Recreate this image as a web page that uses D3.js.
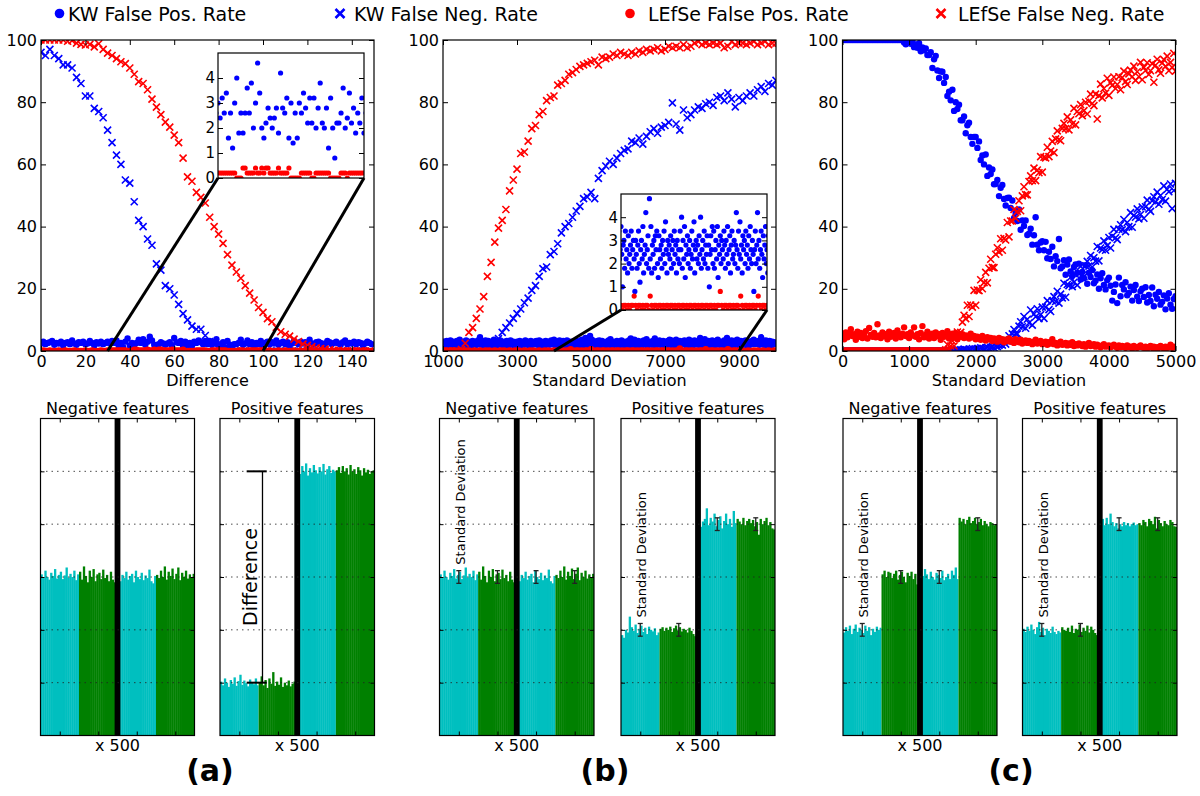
<!DOCTYPE html>
<html><head><meta charset="utf-8">
<script src="https://cdn.jsdelivr.net/npm/d3@7"></script>
<style>body{margin:0;background:#fff}svg{display:block}text{font-family:"DejaVu Sans",sans-serif}</style>
</head><body>
<svg id="chart" width="1200" height="796"></svg>
<script>
// ---------------- DATA ----------------
const legendLabels = ["KW False Pos. Rate","KW False Neg. Rate","LEfSe False Pos. Rate","LEfSe False Neg. Rate"];
const panelLabels = ["(a)","(b)","(c)"];
const xLabels = ["Difference","Standard Deviation","Standard Deviation"];
const yTicksMain = [0,20,40,60,80,100];
const yTicksInset = [0,1,2,3,4];
const xTicksA = [0,20,40,60,80,100,120,140];
const xTicksB = [1000,3000,5000,7000,9000];
const xTicksC = [0,1000,2000,3000,4000,5000];

// Panel (a): Difference
const xA1 = [0,1,2,3,4,5,6,7,8,9,10,11,12,13,14,15,16,17,18,19,20,21,22,23,24,25,26,27,28,29,30,31,32,33,34,35,36,37,38,39,40,41,42,43,44,45,46,47,48,49,50,51,52,53,54,55,56,57,58,59,60,61,62,63,64,65,66,67,68,69,70,71,72,73,74,75,76,77,78,79,80,81,82,83,84,85,86,87,88,89,90,91,92,93,94,95,96,97,98,99,100,101,102,103,104,105,106,107,108,109,110,111,112,113,114,115,116,117,118,119,120,121,122,123,124,125,126,127,128,129,130,131,132,133,134,135,136,137,138,139,140,141,142,143,144,145,146,147,148,149];
const kwFprA = [2.4,3.0,2.2,2.6,2.8,3.2,2.0,2.6,2.4,3.0,1.8,2.6,2.8,2.2,3.4,2.4,2.0,2.8,2.6,3.0,2.2,2.4,3.2,2.6,1.8,2.8,2.4,3.0,2.2,2.6,
 3.0,2.4,3.2,2.6,3.4,1.6,2.6,1.2,3.0,4.0,1.8,2.6,1.8,2.6,3.6,2.6,3.8,2.0,3.0,4.6,3.4,2.0,1.6,2.2,2.8,2.4,2.0,2.4,2.8,1.8,4.2,2.8,2.6,3.2,1.6,3.0,1.4,2.6,1.6,3.0,2.6,3.4,2.8,2.2,3.2,2.2,3.2,2.0,2.8,3.8,2.2,2.0,2.8,1.2,3.2,2.0,0.8,2.2,2.2,2.6,3.6,2.0,2.4,3.4,2.2,2.8,1.8,2.6,2.2,3.2,1.8,
 2.6,3.0,2.2,2.8,2.4,3.4,2.0,2.6,3.0,2.2,2.8,1.8,2.4,3.2,2.6,2.2,3.0,2.4,2.8,2.0,3.6,2.4,2.2,2.8,3.0,2.6,1.6,2.4,3.2,2.8,2.2,2.6,3.0,2.4,2.0,2.8,3.4,2.2,2.6,2.4,3.0,2.2,2.8,2.6,1.8,2.4,3.0,2.6,2.2];
const lefFprA = [0,0.2,0,0,0.2,0,0,0,0.2,0,0,0.2,0,0,0,0.2,0,0,0,0,0.2,0,0,0.2,0,0,0,0.2,0,0,
 0.2,0.2,0.2,0.2,0.2,0.2,0.2,0.2,0.2,0,0,0,0.4,0.4,0.2,0.2,0.2,0.2,0.4,0.2,0.2,0.4,0.2,0.4,0.4,0.2,0.2,0.2,0.2,0.4,0.2,0.2,0.2,0.2,0.4,0,0,0,0,0,0.2,0.2,0.2,0.2,0.2,0,0,0.2,0.2,0.2,0.2,0.2,0.2,0.2,0,0,0,0,0,0.2,0.2,0.2,0,0.2,0.2,0.2,0.2,0.2,0.2,0.2,0.2,
 0,0,0.2,0,0,0,0.2,0,0,0.2,0,0,0,0.2,0,0,0,0,0.2,0,0,0.2,0,0,0,0.2,0,0,0,0,0.2,0,0,0.2,0,0,0,0.2,0,0,0,0.2,0,0,0,0.2,0,0,0];
const xA2 = [0,2,4,6,8,10,12,14,16,18,20,22,24,26,28,30,32,34,36,38,40,42,44,46,48,50,52,54,56,58,60,62,64,66,68,70,72,74,76,78,80,82,84,86,88,90,92,94,96,98,100,102,104,106,108,110,112,114,116,118,120,122,124,126,128,130,132,134,136,138,140,142,144,146,148];
const kwFnrA = [96,95,97,95,94,92,92,91,88,86,82,82,78,77,75,71,67,63,60,55,54,48,42,40,36,34,28,26,21,20,18,15,12,10,8,7,7,5,3,2,1,0.6,0.2,
 0,0,0,0,0,0,0,0,0,0,0,0,0,0,0,0,0,0,0,0,0,0,0,0,0,0,0,0,0,0,0,0];
const lefFnrA = [100,100,100,100,100,100,99.6,99.8,99,98.6,98.4,98.6,97.8,98.8,97,95.8,95,94,93,92.4,91,89,86.6,86,84,81,78.4,76,73.6,72,69.4,67,62,56,54.6,51,49.4,47.6,43,40,37.6,34.6,31,27.6,25.4,23.4,21,18.6,16.4,14,12.4,10.4,9.4,7.6,6.2,5.4,4.8,3.8,3,2.2,1.8,1.4,1,0.8,0.6,0.4,0.2,0.2,
 0,0,0,0,0,0,0];

// Panel (b): Standard Deviation
const xB0 = [1000,1025,1050,1075,1100,1125,1150,1175,1200,1225,1250,1275,1300,1325,1350,1375,1400,1425,1450,1475,1500,1525,1550,1575,1600,1625,1650,1675,1700,1725,1750,1775,1800,1825,1850,1875,1900,1925,1950,1975,
 2000,2025,2050,2075,2100,2125,2150,2175,2200,2225,2250,2275,2300,2325,2350,2375,2400,2425,2450,2475,2500,2525,2550,2575,2600,2625,2650,2675,2700,2725,2750,2775,2800,2825,2850,2875,2900,2925,2950,2975,
 3000,3025,3050,3075,3100,3125,3150,3175,3200,3225,3250,3275,3300,3325,3350,3375,3400,3425,3450,3475,3500,3525,3550,3575,3600,3625,3650,3675,3700,3725,3750,3775,3800,3825,3850,3875,3900,3925,3950,3975,
 4000,4025,4050,4075,4100,4125,4150,4175,4200,4225,4250,4275,4300,4325,4350,4375,4400,4425,4450,4475,4500,4525,4550,4575,4600,4625,4650,4675,4700,4725,4750,4775,4800,4825,4850,4875,4900,4925,4950,4975,
 5000,5025,5050,5075,5100,5125,5150,5175,5200,5225,5250,5275,5300,5325,5350,5375,5400,5425,5450,5475,5500,5525,5550,5575,5600,5625,5650,5675,5700,5725,5750,5775,5800,5825,5850,5875,5900,5925,5950,5975,
 6000,6025,6050,6075,6100,6125,6150,6175,6200,6225,6250,6275,6300,6325,6350,6375,6400,6425,6450,6475,6500,6525,6550,6575,6600,6625,6650,6675,6700,6725,6750,6775,6800,6825,6850,6875,6900,6925,6950,6975,
 7000,7025,7050,7075,7100,7125,7150,7175,7200,7225,7250,7275,7300,7325,7350,7375,7400,7425,7450,7475,7500,7525,7550,7575,7600,7625,7650,7675,7700,7725,7750,7775,7800,7825,7850,7875,7900,7925,7950,7975,
 8000,8025,8050,8075,8100,8125,8150,8175,8200,8225,8250,8275,8300,8325,8350,8375,8400,8425,8450,8475,8500,8525,8550,8575,8600,8625,8650,8675,8700,8725,8750,8775,8800,8825,8850,8875,8900,8925,8950,8975,
 9000,9025,9050,9075,9100,9125,9150,9175,9200,9225,9250,9275,9300,9325,9350,9375,9400,9425,9450,9475,9500,9525,9550,9575,9600,9625,9650,9675,9700,9725,9750,9775,9800,9825,9850,9875,9900,9925,9950,9975,10000];
const kwFprB = [2.4,3.0,1.8,2.6,3.2,2.0,2.8,2.2,3.4,1.6,2.6,3.0,2.2,2.8,1.8,3.2,2.4,2.0,3.6,2.6,
 2.2,2.8,3.0,1.6,2.4,3.4,2.0,2.6,3.0,2.2,2.8,1.8,3.2,2.4,2.6,3.0,2.0,2.8,3.4,2.2,
 4.4,2.8,2.2,3.0,1.8,2.6,3.4,2.0,2.4,3.2,2.8,1.6,2.6,3.0,2.2,3.6,2.4,1.8,2.8,3.2,
 2.0,2.6,3.4,2.2,2.8,1.6,3.0,2.4,2.0,3.2,2.6,1.8,2.8,3.4,2.2,2.6,3.0,1.6,2.4,2.8,
 3.0,2.2,2.6,3.2,1.8,2.8,2.4,3.0,2.0,3.4,2.6,2.2,3.0,1.8,2.8,3.2,2.4,2.0,2.6,3.0,
 2.4,3.2,2.0,2.8,3.4,1.8,2.6,3.0,2.2,2.8,1.6,3.2,2.4,2.6,3.0,2.0,2.8,3.4,2.2,2.6,
 3.6,2.4,1.0,2.8,3.0,1.8,3.4,2.2,2.6,1.6,3.2,2.0,2.4,2.8,3.4,1.8,2.6,3.0,2.2,0.8,
 3.0,2.4,1.8,2.8,3.4,2.0,1.2,2.6,3.0,2.2,3.6,1.6,2.4,2.8,4.2,2.0,2.6,3.2,1.8,4.8,
 2.2,3.6,1.6,2.8,2.4,3.0,1.8,3.2,2.6,3.4,2.0,1.4,3.2,2.6,2.2,2.8,1.8,3.0,2.4,3.4,
 2.0,3.8,2.6,1.6,3.0,2.4,2.8,2.2,3.2,1.8,2.6,3.0,2.0,3.4,2.4,2.8,1.6,3.0,2.2,2.6,
 2.0,3.4,2.6,4.0,1.8,3.0,2.2,3.6,1.4,2.8,2.4,3.2,2.0,2.6,3.0,1.8,2.4,3.4,2.2,2.8,
 3.8,1.6,2.6,3.0,2.2,2.8,2.0,3.2,2.4,4.0,1.8,2.6,3.0,2.2,3.4,2.0,2.8,2.4,3.2,1.8,
 2.8,1.0,2.4,3.2,2.6,3.6,2.0,3.4,1.8,2.6,3.0,2.2,3.6,1.4,2.8,2.4,3.2,2.0,3.0,2.6,
 2.2,3.4,2.8,1.8,3.0,2.4,3.6,2.0,2.6,3.2,1.6,2.8,3.4,2.2,2.4,3.0,2.0,2.8,4.2,2.6,
 1.8,3.4,2.4,3.8,2.2,2.8,1.6,3.2,2.6,3.0,2.0,3.4,2.4,2.8,1.8,3.2,2.2,3.6,2.6,2.0,
 3.0,2.4,0.8,2.6,3.4,2.0,2.8,4.2,2.2,3.0,1.8,2.6,3.4,2.4,1.4,3.2,2.2,2.8,3.6,2.0,
 2.6,1.6,3.2,2.4,3.0,2.0,2.8,3.4,2.2,1.8,3.0,2.6,2.0,2.8,3.2,2.4,3.6,2.2,2.6,3.0,
 2.4,3.2,2.0,2.8,4.4,2.2,3.0,2.6,1.8,3.4,2.4,2.8,2.0,3.2,2.6,1.6,3.0,2.4,2.8,2.2,
 2.6];
const xB1 = [1000,1050,1100,1150,1200,1250,1300,1350,1400,1450,1500,1550,1600,1650,1700,1750,1800,1850,1900,1950,2000,2050,2100,2150,2200,2250,2300,2350,2400,2450,2500,2550,2600,2650,2700,2750,2800,2850,2900,2950,3000,3050,3100,3150,3200,3250,3300,3350,3400,3450,3500,3550,3600,3650,3700,3750,3800,3850,3900,3950,4000,4050,4100,4150,4200,4250,4300,4350,4400,4450,4500,4550,4600,4650,4700,4750,4800,4850,4900,4950,5000,5050,5100,5150,5200,5250,5300,5350,5400,5450,5500,5550,5600,5650,5700,5750,5800,5850,5900,5950,6000,6050,6100,6150,6200,6250,6300,6350,6400,6450,6500,6550,6600,6650,6700,6750,6800,6850,6900,6950,7000,7050,7100,7150,7200,7250,7300,7350,7400,7450,7500,7550,7600,7650,7700,7750,7800,7850,7900,7950,8000,8050,8100,8150,8200,8250,8300,8350,8400,8450,8500,8550,8600,8650,8700,8750,8800,8850,8900,8950,9000,9050,9100,9150,9200,9250,9300,9350,9400,9450,9500,9550,9600,9650,9700,9750,9800,9850,9900,9950,10000];
const lefFprB = [0,0.2,0,0,0.2,0,0.2,0,0,0.2,0,0,0.2,0,0.2,0,0,0.2,0,0,
 0.2,0,0,0.2,0,0.2,0,0,0.2,0,0,0.2,0,0.2,0,0,0.2,0,0,0.2,
 0,0.2,0,0,0.2,0,0,0.2,0,0.2,0,0,0.2,0,0,0.2,0,0.2,0,0,
 0.2,0,0.2,0.2,0,0.2,0,0.2,0.2,0.6,0.2,0,0.2,0.2,0,0.2,0,0.2,0.2,0,
 0.6,0.2,0,0.2,0.2,0,0.2,0.2,0,0.2,0,0.2,0.2,0,0.2,0.2,0,0.2,0,0.2,
 0.2,0,0.2,0.2,0,0.2,0,0.2,0.2,0,0.2,0.2,0,0.2,0,0.2,0.2,0,0.2,0.2,
 0,0.2,0.2,0,0.2,0,0.2,0.2,0.8,0.2,0,0.2,0.2,0,0.2,0.2,0,0.2,0,0.2,
 0.2,0,0.6,0.2,0,0.2,0.2,0,0.2,0,0.2,0.2,0,0.2,0.6,0.2,0,0.2,0.2,0,
 0.2,0,0.2,0,0,0.2,0,0,0.2,0,0.2,0,0,0.2,0,0,0.2,0,0,0.2,0];
const xB2 = [1000,1100,1200,1300,1400,1500,1600,1700,1800,1900,2000,2100,2200,2300,2400,2500,2600,2700,2800,2900,3000,3100,3200,3300,3400,3500,3600,3700,3800,3900,4000,4100,4200,4300,4400,4500,4600,4700,4800,4900,5000,5100,5200,5300,5400,5500,5600,5700,5800,5900,6000,6100,6200,6300,6400,6500,6600,6700,6800,6900,7000,7100,7200,7300,7400,7500,7600,7700,7800,7900,8000,8100,8200,8300,8400,8500,8600,8700,8800,8900,9000,9100,9200,9300,9400,9500,9600,9700,9800,9900,10000];
const kwFnrB = [0,0,0,0,0,0,0,0,0,0,0,0,0,0,
 2,4,6,7.5,9,10.5,12,13.5,15.5,17,19.5,21,24,26.5,27,31,32,34.5,38,40,41,43,45,46.5,49,49.5,51,49,55.5,58,59.5,61,60,62,63.5,64.5,65,67.5,67,68.5,66.5,69,70.5,71.5,70,72,72.5,73.5,79.8,73,71,77.5,75,76,77.5,78.5,78,79.5,80,79,81.5,82,80.5,83,81,78.5,81.5,80.5,82,83,82,84,85,83.5,86,85.5,87];
const lefFnrB = [0,0,0,0,0,
 0.5,2.5,6,7.5,10.5,13.5,17.5,24,28.5,35,39.5,42,45.5,51.5,55,58.5,63.5,64,67.5,71.5,72.5,76,77,80.5,81.5,82,85.5,86,87,89,89.5,90.5,91.5,92,92.5,93,93.5,92,94.5,94,94.5,95.5,95,96,95.5,95,96,95.5,96.5,96,97,96.5,97,97.5,96.5,97,98,97.5,98,97.5,98.5,97.5,98,99,99.5,98.5,99,98.5,99,98.5,99,97.5,98,99.5,98.5,99,99,98.5,99,99.5,98.5,99,99.5,98.5,99,99];

// Panel (c): Standard Deviation
const xC = [0,25,50,75,100,125,150,175,200,225,250,275,300,325,350,375,400,425,450,475,500,525,550,575,600,625,650,675,700,725,750,775,800,825,850,875,900,925,950,975,1000,1025,1050,1075,1100,1125,1150,1175,1200,1225,1250,1275,1300,1325,1350,1375,1400,1425,1450,1475,1500,1525,1550,1575,1600,1625,1650,1675,1700,1725,1750,1775,1800,1825,1850,1875,1900,1925,1950,1975,2000,2025,2050,2075,2100,2125,2150,2175,2200,2225,2250,2275,2300,2325,2350,2375,2400,2425,2450,2475,2500,2525,2550,2575,2600,2625,2650,2675,2700,2725,2750,2775,2800,2825,2850,2875,2900,2925,2950,2975,3000,3025,3050,3075,3100,3125,3150,3175,3200,3225,3250,3275,3300,3325,3350,3375,3400,3425,3450,3475,3500,3525,3550,3575,3600,3625,3650,3675,3700,3725,3750,3775,3800,3825,3850,3875,3900,3925,3950,3975,4000,4025,4050,4075,4100,4125,4150,4175,4200,4225,4250,4275,4300,4325,4350,4375,4400,4425,4450,4475,4500,4525,4550,4575,4600,4625,4650,4675,4700,4725,4750,4775,4800,4825,4850,4875,4900,4925,4950,4975,5000];
const kwFprC = [100,100,100,100,100,100,100,100,100,100,100,100,100,100,100,100,100,100,100,100,100,100,100,100,100,100,100,100,100,100,100,100,100,100,100,100,100,
 99.2,98.6,99.7,99.9,98.8,99.8,97.7,98.6,97.5,99.0,96.4,97.6,96.7,97.3,95.2,95.2,96.1,91.0,93.8,94.9,
 90.2,87.8,89.9,89.8,86.2,88.1,82.0,83.4,80.6,84.0,77.2,80.0,77.8,79.2,74.2,74.2,75.4,70.0,72.6,73.4,
 68.8,66.6,68.8,68.8,65.3,67.4,61.4,62.9,60.0,63.2,56.3,59.0,56.9,58.4,53.6,53.7,55.0,49.8,52.5,53.4,
 48.9,46.8,49.2,49.3,46.0,48.4,42.7,44.4,41.8,45.5,39.0,42.0,40.2,42.0,37.3,37.7,39.3,34.2,37.2,43.0,
 34.2,32.4,34.9,35.3,32.4,35.1,29.8,31.9,29.6,33.5,27.2,30.5,28.9,36.0,26.6,27.2,29.2,24.5,27.8,29.4,
 25.6,24.1,27.0,27.8,25.2,28.1,23.0,25.4,23.4,27.6,21.6,25.2,23.8,26.0,21.8,22.6,24.6,20.0,23.4,25.0,
 21.2,19.8,22.8,23.6,21.0,16.2,19.0,21.4,15.4,23.6,17.6,21.2,19.8,22.1,17.9,18.7,20.7,16.2,19.6,21.2,
 17.5,16.1,19.2,20.0,17.4,20.5,15.6,18.0,16.1,20.4,14.4,18.1,16.8,19.0,14.9,15.8,17.9,13.4,16.9,18.6,
 14.9,13.6,16.7,17.6];
const kwFnrC = [0,0,0,0,0,0,0,0,0,0,0,0,0,0,0,0,0,0,0,0,0,0,0,0,0,0,0,0,0,0,0,0,0,0,0,0,0,0,0,0,0,0,0,0,0,0,0,0,0,0,0,0,0,0,0,0,0,0,0,0,0,0,0,0,0,0,
 0.2,0,0.2,0.4,0.2,0.4,0.2,0.6,0.4,0.2,0.6,0.4,0.8,0.4,0.6,0.8,0.6,1.0,0.8,0.6,
 1.0,1.2,0.8,1.2,1.4,1.0,1.6,1.4,1.8,2.2,
 1.9,3.6,2.2,3.2,4.9,3.2,5.5,6.9,5.6,5.5,8.0,9.4,7.8,11.1,7.3,10.2,9.0,13.2,8.3,11.9,
 11.0,13.6,10.4,11.7,14.1,10.5,14.1,16.2,13.3,12.7,16.1,17.5,15.9,19.2,15.4,18.3,17.1,21.8,17.3,21.4,
 21.0,23.7,20.7,22.1,24.6,21.2,24.9,27.2,24.4,23.9,27.4,28.8,27.3,30.7,27.0,30.0,28.9,33.6,29.0,33.1,
 32.6,35.4,32.4,33.9,36.5,33.1,36.9,39.1,36.4,35.8,39.2,40.6,39.0,42.3,38.4,41.3,40.0,44.5,39.8,43.6,
 43.0,45.7,42.5,43.9,46.3,42.7,46.4,48.5,45.6,44.9,48.3,49.6,47.9,51.1,47.2,50.0,48.7,53.1,48.2,52.0,
 51.2,53.7,45.8,51.6,53.9];
const lefFprC = [5.2,3.8,6.0,4.4,5.6,7.0,4.8,5.4,3.6,6.2,4.6,5.8,4.2,5.0,6.4,4.0,7.4,5.2,4.6,5.8,4.4,
 8.6,5.0,4.2,6.0,4.8,5.4,3.8,6.2,4.6,5.2,5.8,4.0,6.6,5.0,4.4,5.6,7.6,4.8,5.4,4.2,
 6.0,5.0,7.6,4.6,5.4,3.8,5.8,8.0,4.4,5.2,6.2,4.0,5.0,5.6,4.2,6.0,4.8,5.4,3.6,5.8,
 4.6,5.2,6.4,4.0,5.0,5.6,4.4,5.8,3.8,5.2,4.6,5.4,4.2,5.0,4.8,4.0,5.6,4.4,4.8,3.8,
 4.6,4.2,3.6,4.8,4.0,3.4,4.4,3.8,4.2,3.2,4.0,3.6,3.0,4.2,3.4,3.8,2.8,3.6,3.2,4.0,
 3.0,3.4,2.6,3.8,3.2,2.8,3.6,2.4,3.0,3.4,2.6,3.2,2.8,2.2,3.0,3.6,2.4,2.8,3.2,2.2,
 2.6,3.0,2.0,2.8,2.4,3.8,2.2,2.6,1.8,2.4,3.0,2.0,2.2,2.6,1.8,2.4,2.0,2.8,1.6,2.2,
 1.8,2.4,2.0,1.6,2.2,1.4,2.0,2.6,1.6,1.8,2.2,1.4,2.0,1.6,1.2,1.8,2.2,1.4,1.6,1.8,
 1.2,1.6,2.0,1.4,1.0,1.8,1.2,1.6,1.4,1.0,1.8,1.2,1.4,0.8,1.6,1.2,1.0,1.4,1.8,1.2,
 1.0,1.4,0.8,1.2,1.6,1.0,1.4,0.8,1.2,1.0,1.6,1.2,0.8,1.4,1.0,1.2,2.0,1.0,1.4,1.2];
const lefFnrC = [0,0,0,0,0,0,0,0,0,0,0,0,0,0,0,0,0,0,0,0,0,0,0,0,0,0,0,0,0,0,0,0,0,0,0,0,0,0,0,0,0,0,0,0,0,0,0,0,0,0,0,0,0,0,0,0,0,0,0,0,0,0,
 0.4,2.1,0.6,1.6,3.2,1.6,4.1,6.1,5.4,6.0,9.3,11.5,10.4,14.7,11.1,14.8,14.1,19.5,14.7,19.6,
 19.4,22.9,20.0,22.0,25.3,21.9,26.6,29.5,26.9,26.8,31.1,33.2,31.8,36.1,32.4,36.2,35.7,41.3,36.7,41.8,
 41.8,45.5,42.7,44.9,48.3,45.1,49.9,52.8,50.3,50.2,54.5,56.3,54.8,58.8,54.8,58.2,57.3,62.5,57.5,62.3,
 62.1,65.5,62.5,64.3,67.4,63.8,68.2,70.8,68.0,67.6,71.6,73.2,71.5,75.3,71.1,74.3,73.0,78.0,72.7,77.0,
 76.3,79.2,75.7,77.3,80.0,76.2,80.3,82.6,79.6,78.9,82.6,74.6,82.1,85.8,81.4,84.4,82.9,87.7,82.2,86.3,
 85.4,88.1,84.4,85.7,88.2,84.0,87.9,90.0,86.6,85.7,89.1,90.3,88.2,91.6,87.0,89.8,88.2,92.8,87.2,91.2,
 90.2,92.7,88.9,90.1,92.4,86.4,91.9,93.8,90.4,89.3,92.6,93.7,91.5,94.8,90.1,92.8,91.2,95.7,90.0];

// Bottom bar panels: per-feature abundances (4 groups of 20 bars each)
const neg3c1 = [3.05,2.98,3.12,3.0,2.95,3.08,3.02,3.15,2.97,3.04,3.1,2.96,3.03,3.18,2.99,3.06,3.0,3.12,2.94,3.05];
const neg3g1 = [3.1,2.95,3.2,3.02,2.9,3.12,3.0,3.15,2.92,3.05,3.08,2.96,3.14,2.98,3.04,2.92,3.1,2.95,2.9,2.97];
const neg3c2 = [3.0,2.92,3.04,2.98,3.1,2.95,3.02,3.06,2.9,3.12,3.0,2.96,3.08,2.94,3.03,2.98,3.14,2.92,2.88,3.02];
const neg3g2 = [3.04,2.98,3.12,3.0,3.2,2.95,3.1,3.02,3.16,2.96,3.06,3.18,2.94,3.08,3.0,3.12,2.97,3.05,2.99,3.06];
const posA1c = [1.02,0.95,1.08,1.0,0.92,1.05,0.98,1.1,0.94,1.03,1.15,0.96,1.04,0.99,0.93,1.06,1.0,0.97,1.08,0.95];
const posA1g = [1.0,1.12,0.95,1.05,0.9,1.08,0.98,1.2,0.94,1.02,0.96,1.1,0.92,1.0,0.95,1.04,0.93,0.98,1.02,0.96];
const posA5c = [5.05,4.95,5.1,5.0,5.15,4.92,5.06,4.98,5.12,5.02,4.96,5.08,5.0,5.14,4.94,5.04,5.1,4.97,5.03,5.0];
const posA5g = [5.02,5.08,4.97,5.1,5.0,5.06,4.94,5.12,5.0,5.04,4.95,5.08,5.02,4.92,5.06,4.98,5.03,4.95,5.0,5.02];
const posB2c = [1.9,1.85,2.0,1.95,2.25,2.05,1.98,2.1,1.94,2.02,2.08,1.96,2.04,1.92,2.06,2.0,1.97,2.03,1.9,1.95];
const posB2g = [2.02,2.05,1.98,2.04,2.0,2.06,1.96,2.03,2.08,1.99,2.05,1.97,2.02,2.0,1.95,2.04,1.98,1.92,1.88,1.95];
const posB4c = [4.0,3.95,4.05,4.1,4.3,3.98,4.12,4.05,4.2,3.96,4.08,4.15,3.92,4.06,4.2,4.0,4.1,3.95,4.25,4.02];
const posB4g = [4.1,4.05,4.0,4.12,3.98,4.06,4.1,4.02,4.08,3.96,4.04,3.8,4.1,4.0,4.06,4.12,3.98,4.04,3.92,3.9];
const negC2c = [1.95,2.05,1.98,2.08,1.92,2.02,2.1,1.96,2.04,2.0,1.94,2.08,1.98,2.05,1.9,2.02,1.96,2.06,2.0,2.04];
const negC3g = [3.05,3.12,3.0,3.1,3.08,2.98,3.06,3.12,2.95,3.04,3.1,3.0,2.9,3.08,3.02,3.1,2.96,3.06,2.86,2.85];
const negC3c = [2.98,3.02,3.15,3.05,2.96,3.1,3.0,2.95,3.08,3.04,2.98,3.12,2.94,3.0,3.06,2.96,3.12,3.04,3.18,2.96];
const negC4g = [4.12,4.05,4.1,4.0,4.08,4.14,4.02,4.06,4.12,4.0,4.04,4.1,3.98,4.06,4.0,3.96,4.04,4.02,3.98,4.0];
const posC2c = [2.02,1.96,2.06,1.98,2.1,2.0,1.92,2.05,2.15,1.96,2.04,1.9,2.02,1.98,1.94,2.06,1.96,1.92,1.98,1.95];
const posC2g = [2.05,2.0,1.98,2.04,1.96,2.08,1.94,2.02,2.0,2.1,1.96,2.04,1.98,2.08,1.95,2.06,2.0,1.94,1.9,1.85];
const posC4c = [4.05,4.1,3.98,4.12,4.0,4.2,4.04,3.96,4.02,3.92,4.0,3.96,4.04,3.98,4.02,3.96,4.0,4.03,3.98,4.0];
const posC4g = [4.02,3.98,4.08,4.04,3.96,4.1,4.06,4.0,4.14,3.92,4.08,4.02,3.96,4.06,4.0,3.98,4.08,4.04,3.96,3.95];
// group means with standard-deviation error bars
const errB_neg = [3,3,3,3], errB_pos = [2,2,4,4], errC_neg = [2,3,3,4], errC_pos = [2,2,4,4];
const errHalf = 0.12;
const barTitles = ["Negative features","Positive features"];
const barXLabel = "x 500";

// ---------------- DRAW ----------------
const BLUE = "#0000ff", RED = "#ff0000", CYAN = "#00bfbf", GREEN = "#008000";
const svg = d3.select("#chart");
const defs = svg.append("defs");
const TOP0 = 40, TOP1 = 351;
const BY0 = 418.5, BY1 = 735.5;

function markers(layer, xs, ys, s, rDot, rX) {
  const n = Math.min(s.x.length, s.y.length);
  const pts = d3.range(n).map(i => [s.x[i], s.y[i]]);
  const g = layer.append("g");
  if (s.shape === "o") {
    g.selectAll("circle").data(pts).join("circle")
      .attr("cx", d => xs(d[0])).attr("cy", d => ys(d[1])).attr("r", rDot).attr("fill", s.color);
  } else {
    g.selectAll("path").data(pts).join("path")
      .attr("d", d => { const X = xs(d[0]), Y = ys(d[1]); return `M${X-rX},${Y-rX}L${X+rX},${Y+rX}M${X-rX},${Y+rX}L${X+rX},${Y-rX}`; })
      .attr("stroke", s.color).attr("stroke-width", 1.6).attr("fill", "none");
  }
}

function axes(g, xs, ys, xt, yt, o) {
  const [x0, x1] = xs.range(), [y1, y0] = ys.range();
  const T = o.tick;
  const ax = g.append("g");
  ax.append("g").attr("transform", `translate(0,${y1})`)
    .call(d3.axisBottom(xs).tickValues(xt).tickSizeInner(-T).tickSizeOuter(0).tickPadding(o.xpad || 4).tickFormat(o.xfmt || (() => "")));
  ax.append("g").attr("transform", `translate(0,${y0})`)
    .call(d3.axisTop(xs).tickValues(xt).tickSizeInner(-T).tickSizeOuter(0).tickFormat(() => ""));
  ax.append("g").attr("transform", `translate(${x0},0)`)
    .call(d3.axisLeft(ys).tickValues(yt).tickSizeInner(-T).tickSizeOuter(0).tickPadding(o.ypad || 4).tickFormat(o.yfmt || (() => "")));
  ax.append("g").attr("transform", `translate(${x1},0)`)
    .call(d3.axisRight(ys).tickValues(yt).tickSizeInner(-T).tickSizeOuter(0).tickFormat(() => ""));
  ax.selectAll(".domain").remove();
  ax.selectAll("text").attr("font-size", o.fs || 16).attr("font-family", "DejaVu Sans").attr("fill", "#000");
  ax.selectAll("line").attr("stroke", "#000").attr("stroke-width", 1);
  g.append("rect").attr("x", x0).attr("y", y0).attr("width", x1 - x0).attr("height", y1 - y0)
    .attr("fill", "none").attr("stroke", "#000").attr("stroke-width", 1.2);
}

const fmtInt = d3.format("d");
const mains = [
  {id: "A", x0: 41, x1: 374, dom: [0, 150], xt: xTicksA, label: xLabels[0],
   series: [{x: xA1, y: kwFprA, color: BLUE, shape: "o"}, {x: xA2, y: kwFnrA, color: BLUE, shape: "x"},
            {x: xA1, y: lefFprA, color: RED, shape: "o"}, {x: xA2, y: lefFnrA, color: RED, shape: "x"}],
   inset: {x0: 218, x1: 364, y0: 53, y1: 178, dom: [30, 100]}},
  {id: "B", x0: 443, x1: 776, dom: [1000, 10000], xt: xTicksB, label: xLabels[1],
   series: [{x: xB0, y: kwFprB, color: BLUE, shape: "o"}, {x: xB2, y: kwFnrB, color: BLUE, shape: "x"},
            {x: xB1, y: lefFprB, color: RED, shape: "o"}, {x: xB2, y: lefFnrB, color: RED, shape: "x"}],
   inset: {x0: 621, x1: 767, y0: 194, y1: 310, dom: [4000, 9000]}},
  {id: "C", x0: 842.5, x1: 1175.5, dom: [0, 5000], xt: xTicksC, label: xLabels[2],
   series: [{x: xC, y: kwFprC, color: BLUE, shape: "o"}, {x: xC, y: kwFnrC, color: BLUE, shape: "x"},
            {x: xC, y: lefFprC, color: RED, shape: "o"}, {x: xC, y: lefFnrC, color: RED, shape: "x"}]}
];

mains.forEach(p => {
  const xs = d3.scaleLinear(p.dom, [p.x0, p.x1]);
  const ys = d3.scaleLinear([0, 100], [TOP1, TOP0]);
  const g = svg.append("g");
  defs.append("clipPath").attr("id", "clip" + p.id).append("rect")
    .attr("x", p.x0).attr("y", TOP0).attr("width", p.x1 - p.x0).attr("height", TOP1 - TOP0);
  const data = g.append("g").attr("clip-path", `url(#clip${p.id})`);
  p.series.forEach(s => markers(data, xs, ys, s, 3.2, 3.5));
  axes(g, xs, ys, p.xt, yTicksMain, {tick: 5, xpad: 5, ypad: 4, xfmt: fmtInt, yfmt: fmtInt, fs: 16});
  g.append("text").attr("x", (p.x0 + p.x1) / 2).attr("y", 386).attr("text-anchor", "middle")
    .attr("font-size", 16).text(p.label);
  if (p.inset) {
    const q = p.inset;
    g.append("line").attr("x1", q.x0).attr("y1", q.y1).attr("x2", xs(q.dom[0])).attr("y2", ys(0))
      .attr("stroke", "#000").attr("stroke-width", 3);
    g.append("line").attr("x1", q.x1).attr("y1", q.y1).attr("x2", xs(q.dom[1])).attr("y2", ys(0))
      .attr("stroke", "#000").attr("stroke-width", 3);
    const ixs = d3.scaleLinear(q.dom, [q.x0, q.x1]);
    const iys = d3.scaleLinear([0, 5], [q.y1, q.y0]);
    const ig = g.append("g");
    ig.append("rect").attr("x", q.x0).attr("y", q.y0).attr("width", q.x1 - q.x0).attr("height", q.y1 - q.y0).attr("fill", "#fff");
    defs.append("clipPath").attr("id", "clipI" + p.id).append("rect")
      .attr("x", q.x0).attr("y", q.y0).attr("width", q.x1 - q.x0).attr("height", q.y1 - q.y0);
    const idata = ig.append("g").attr("clip-path", `url(#clipI${p.id})`);
    p.series.filter(s => s.shape === "o").forEach(s => markers(idata, ixs, iys, s, 2.6, 3));
    axes(ig, ixs, iys, [], yTicksInset, {tick: 5, ypad: 3, yfmt: fmtInt, fs: 15});
  }
});

// Legend
const legendShapes = ["o", "x", "o", "x"], legendColors = [BLUE, BLUE, RED, RED];
const legendMarkX = [59.5, 340, 630, 941], legendTextX = [68, 354, 648, 958];
legendLabels.forEach((lab, i) => {
  const g = svg.append("g");
  const cx = legendMarkX[i], cy = 13.5;
  if (legendShapes[i] === "o") g.append("circle").attr("cx", cx).attr("cy", cy).attr("r", 4.8).attr("fill", legendColors[i]);
  else g.append("path").attr("d", `M${cx-4.5},${cy-4.5}L${cx+4.5},${cy+4.5}M${cx-4.5},${cy+4.5}L${cx+4.5},${cy-4.5}`)
    .attr("stroke", legendColors[i]).attr("stroke-width", 2.6);
  g.append("text").attr("x", legendTextX[i]).attr("y", 20.5).attr("font-size", 19).text(lab);
});

// Bottom bar panels
function barPanel(p) {
  const xs = d3.scaleLinear([0, 4], [p.x0, p.x1]);
  const ys = d3.scaleLinear([0, 6], [BY1, BY0]);
  const g = svg.append("g");
  const bars = p.groups.flatMap((arr, gi) => arr.map((v, i) => ({gi, i, n: arr.length, v})));
  g.append("g").selectAll("rect").data(bars).join("rect")
    .attr("x", d => xs(d.gi + d.i / d.n))
    .attr("width", d => xs(d.gi + (d.i + 1) / d.n) - xs(d.gi + d.i / d.n) + (d.i < d.n - 1 ? 0.4 : 0))
    .attr("y", d => ys(d.v)).attr("height", d => ys(0) - ys(d.v))
    .attr("fill", d => d.gi % 2 ? GREEN : CYAN);
  g.append("rect").attr("x", xs(2) - 2.9).attr("y", BY0).attr("width", 5.8).attr("height", BY1 - BY0).attr("fill", "#000");
  g.append("g").selectAll("line").data([1, 2, 3, 4, 5]).join("line")
    .attr("x1", p.x0).attr("x2", p.x1).attr("y1", d => ys(d)).attr("y2", d => ys(d))
    .attr("stroke", "#222").attr("stroke-width", 1).attr("stroke-dasharray", "1.5,4").attr("opacity", 0.8);
  if (p.err) {
    const eg = g.append("g").attr("stroke", "#222").attr("stroke-width", 1.3);
    p.err.forEach((m, gi) => {
      const cx = xs(gi + 0.5);
      eg.append("line").attr("x1", cx).attr("x2", cx).attr("y1", ys(m - errHalf)).attr("y2", ys(m + errHalf));
      eg.append("line").attr("x1", cx - 2.5).attr("x2", cx + 2.5).attr("y1", ys(m - errHalf)).attr("y2", ys(m - errHalf));
      eg.append("line").attr("x1", cx - 2.5).attr("x2", cx + 2.5).attr("y1", ys(m + errHalf)).attr("y2", ys(m + errHalf));
    });
    const top = ys(p.err[0] + errHalf) - 6, cx = xs(0.5) + 1;
    g.append("text").attr("transform", `translate(${cx},${top}) rotate(-90)`).attr("dy", "0.36em")
      .attr("font-size", 13).text("Standard Deviation");
  }
  if (p.diff) {
    const [lo, hi] = p.diff;
    g.append("line").attr("x1", xs(1.1)).attr("x2", xs(1.1)).attr("y1", ys(lo)).attr("y2", ys(hi)).attr("stroke", "#000").attr("stroke-width", 1.3);
    g.append("line").attr("x1", xs(0.69)).attr("x2", xs(1.21)).attr("y1", ys(hi)).attr("y2", ys(hi)).attr("stroke", "#000").attr("stroke-width", 2);
    g.append("line").attr("x1", xs(0.69)).attr("x2", xs(1.21)).attr("y1", ys(lo)).attr("y2", ys(lo)).attr("stroke", "#000").attr("stroke-width", 2);
    g.append("text").attr("transform", `translate(${xs(0.78)},${ys((lo + hi) / 2)}) rotate(-90)`)
      .attr("text-anchor", "middle").attr("dy", "0.36em").attr("font-size", 19).text(xLabels[0]);
  }
  axes(g, xs, ys, [0.5, 1.5, 2.5, 3.5], [1, 2, 3, 4, 5], {tick: 4});
  g.append("text").attr("x", (p.x0 + p.x1) / 2).attr("y", 414).attr("text-anchor", "middle").attr("font-size", 16).text(p.title);
  g.append("text").attr("x", (p.x0 + p.x1) / 2).attr("y", 751).attr("text-anchor", "middle").attr("font-size", 16).text(barXLabel);
}

const barPanels = [
  {x0: 40.5, x1: 194.5, groups: [neg3c1, neg3g1, neg3c2, neg3g2], title: barTitles[0]},
  {x0: 220, x1: 374.5, groups: [posA1c, posA1g, posA5c, posA5g], title: barTitles[1], diff: [1, 5]},
  {x0: 439.5, x1: 594, groups: [neg3c1, neg3g1, neg3c2, neg3g2], title: barTitles[0], err: errB_neg},
  {x0: 621, x1: 775, groups: [posB2c, posB2g, posB4c, posB4g], title: barTitles[1], err: errB_pos},
  {x0: 843, x1: 997, groups: [negC2c, negC3g, negC3c, negC4g], title: barTitles[0], err: errC_neg},
  {x0: 1022.5, x1: 1177, groups: [posC2c, posC2g, posC4c, posC4g], title: barTitles[1], err: errC_pos}
];
barPanels.forEach(barPanel);

const labelX = [210, 605, 1011];
panelLabels.forEach((t, i) => {
  svg.append("text").attr("x", labelX[i]).attr("y", 781).attr("text-anchor", "middle")
    .attr("font-size", 30).attr("font-weight", "bold").text(t);
});
</script>
</body></html>
